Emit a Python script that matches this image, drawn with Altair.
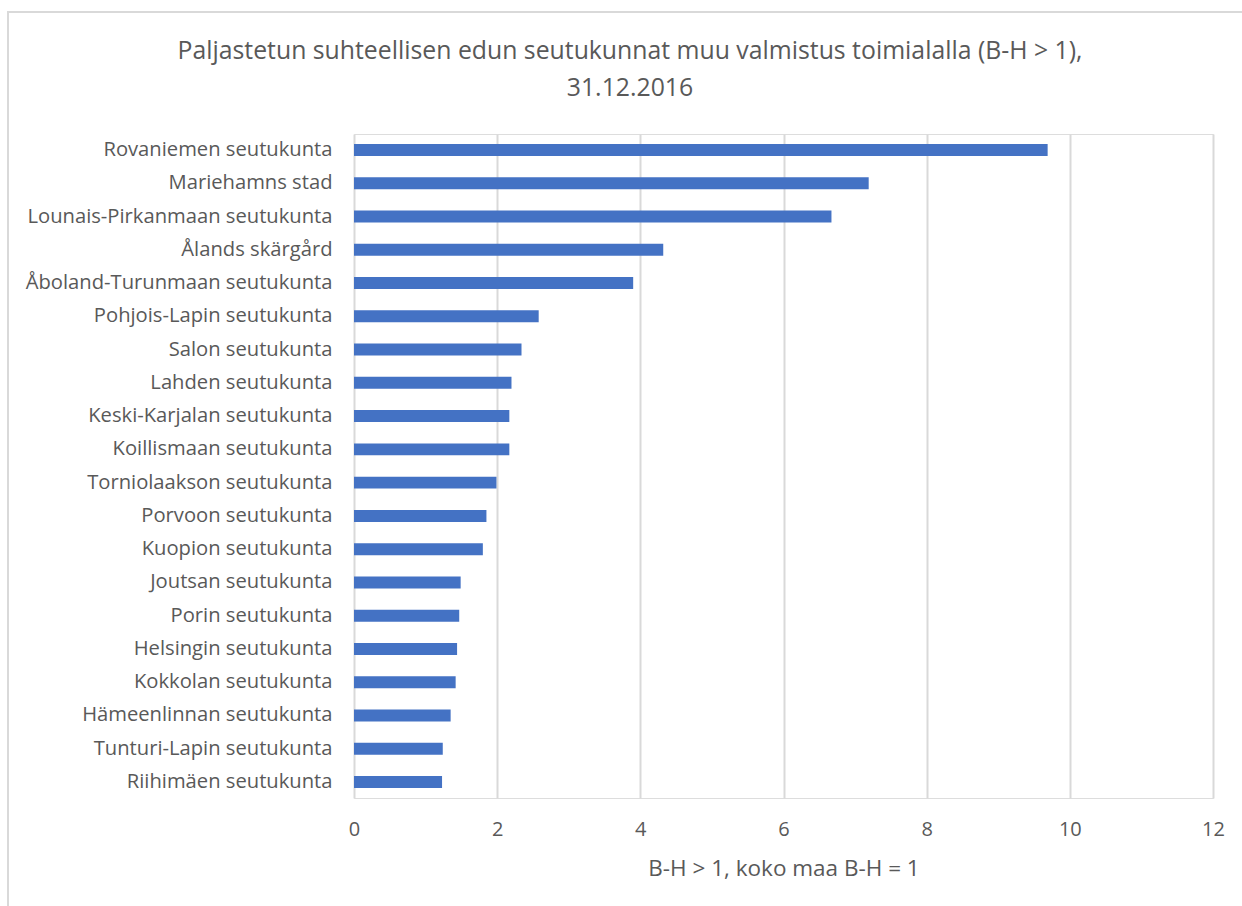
import altair as alt
import pandas as pd

# Regions with a revealed comparative advantage (B-H > 1), other manufacturing
regions = [
    "Rovaniemen seutukunta",
    "Mariehamns stad",
    "Lounais-Pirkanmaan seutukunta",
    "Ålands skärgård",
    "Åboland-Turunmaan seutukunta",
    "Pohjois-Lapin seutukunta",
    "Salon seutukunta",
    "Lahden seutukunta",
    "Keski-Karjalan seutukunta",
    "Koillismaan seutukunta",
    "Torniolaakson seutukunta",
    "Porvoon seutukunta",
    "Kuopion seutukunta",
    "Joutsan seutukunta",
    "Porin seutukunta",
    "Helsingin seutukunta",
    "Kokkolan seutukunta",
    "Hämeenlinnan seutukunta",
    "Tunturi-Lapin seutukunta",
    "Riihimäen seutukunta",
]
bh_index = [
    9.69, 7.19, 6.67, 4.32, 3.90, 2.58, 2.34, 2.20, 2.17, 2.17,
    1.99, 1.85, 1.80, 1.49, 1.47, 1.44, 1.42, 1.35, 1.24, 1.23,
]
x_ticks = [0, 2, 4, 6, 8, 10, 12]

title_line1 = "Paljastetun suhteellisen edun seutukunnat muu valmistus toimialalla (B-H > 1),"
title_line2 = "31.12.2016"
x_title = "B-H > 1, koko maa B-H = 1"

FONT = "Open Sans"
TEXT = "#595959"
GRID = "#d9d9d9"

# plot-area origin inside the page
LEFT, TOP = 354, 134

df = pd.DataFrame({"seutukunta": regions, "bh": bh_index})

bars = (
    alt.Chart(df)
    .mark_bar(color="#4472C4")
    .encode(
        x=alt.X(
            "bh:Q",
            scale=alt.Scale(domain=[0, 12], nice=False),
            axis=alt.Axis(
                values=x_ticks,
                title=x_title,
                grid=True,
                gridColor=GRID,
                gridWidth=2,
                domain=False,
                ticks=False,
                labelFlush=False,
                labelFont=FONT,
                labelFontSize=20,
                labelColor=TEXT,
                labelPadding=21,
                titleFont=FONT,
                titleFontSize=22.5,
                titleFontWeight="normal",
                titleColor=TEXT,
                titlePadding=18,
            ),
        ),
        y=alt.Y(
            "seutukunta:N",
            sort=regions,
            scale=alt.Scale(paddingInner=0.64, paddingOuter=0.3),
            axis=alt.Axis(
                title=None,
                domain=False,
                ticks=False,
                grid=False,
                labelFont=FONT,
                labelFontSize=20.2,
                labelColor=TEXT,
                labelPadding=22,
                labelLimit=0,
            ),
        ),
    )
)

# light grey outer frame around the whole chart
frame = (
    alt.Chart(alt.Data(values=[{}]))
    .mark_rect(fill=None, stroke=GRID, strokeWidth=2)
    .encode(
        x=alt.value(8 - LEFT),
        x2=alt.value(1260 - LEFT),
        y=alt.value(12 - TOP),
        y2=alt.value(930 - TOP),
    )
)

# two-line chart heading, centred on the whole chart
def heading(text, y):
    return (
        alt.Chart(alt.Data(values=[{}]))
        .mark_text(
            font=FONT,
            fontSize=24.8,
            color=TEXT,
            align="center",
            baseline="middle",
        )
        .encode(x=alt.value(630 - LEFT), y=alt.value(y - TOP), text=alt.value(text))
    )

chart = (
    alt.layer(frame, bars, heading(title_line1, 52), heading(title_line2, 89))
    .properties(
        width=859,
        height=664,
        padding={"left": LEFT, "top": TOP, "right": 29, "bottom": 108},
        autosize=alt.AutoSizeParams(type="none"),
    )
    .configure_view(stroke=None)
    .configure(background="white")
)

chart.save("out.html", embed_options={"renderer": "svg", "actions": False})
